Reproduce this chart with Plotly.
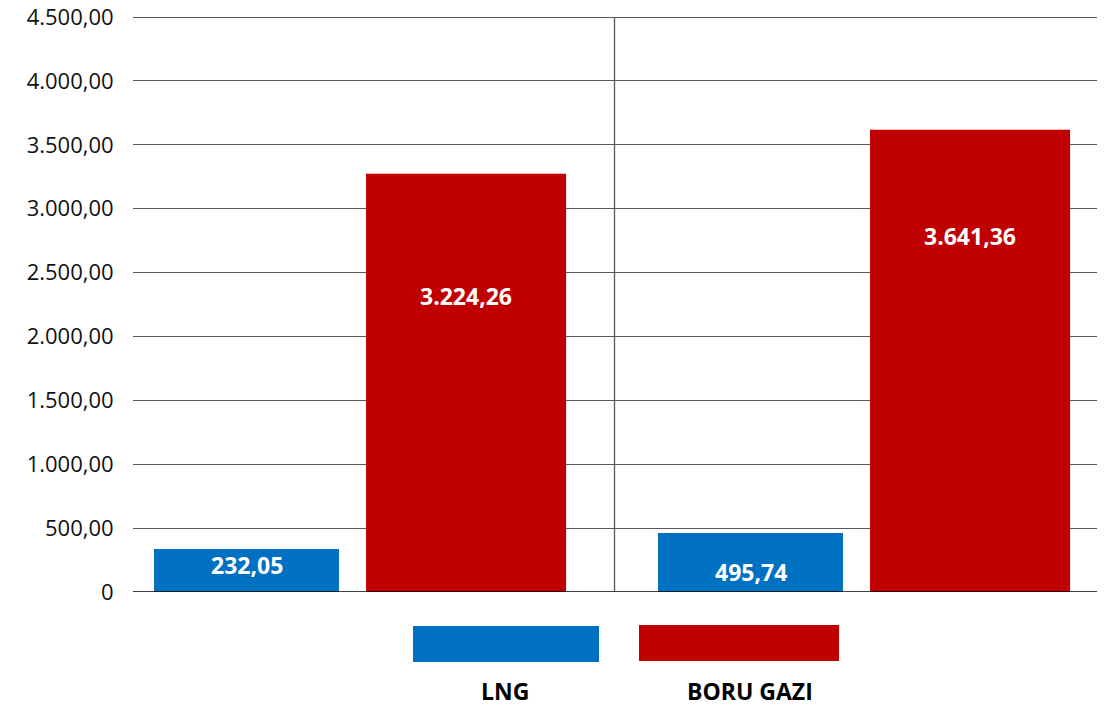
import plotly.graph_objects as go

# ---- data ----
categories = ["Dönem 1", "Dönem 2"]
lng_values = [336, 461]            # bar heights
boru_values = [3273, 3617]
lng_labels = ["232,05", "495,74"]  # printed data labels
boru_labels = ["3.224,26", "3.641,36"]
series_names = ["LNG", "BORU GAZI"]
y_tickvals = [0, 500, 1000, 1500, 2000, 2500, 3000, 3500, 4000, 4500]
y_ticktext = ["0", "500,00", "1.000,00", "1.500,00", "2.000,00", "2.500,00",
              "3.000,00", "3.500,00", "4.000,00", "4.500,00"]

# ---- style ----
BLUE = "#0070C0"
RED = "#C00000"
GRID = "#595959"
LABEL_FONT = dict(family="Open Sans", size=23, color="white")
lng_offset, lng_width = -0.4087, 0.367
boru_offset, boru_width = 0.0119, 0.397
lng_label_y = [211, 156]
boru_label_y = [2320, 2789]

fig = go.Figure()
fig.add_trace(go.Bar(x=categories, y=lng_values, name=series_names[0],
                     marker=dict(color=BLUE, line=dict(width=0)),
                     offset=lng_offset, width=lng_width, hoverinfo="skip"))
fig.add_trace(go.Bar(x=categories, y=boru_values, name=series_names[1],
                     marker=dict(color=RED, line=dict(width=0)),
                     offset=boru_offset, width=boru_width, hoverinfo="skip"))

annotations = []
for i in range(len(categories)):
    annotations.append(dict(x=i + lng_offset + lng_width / 2, y=lng_label_y[i],
                            xref="x", yref="y", text="<b>%s</b>" % lng_labels[i],
                            showarrow=False, font=LABEL_FONT,
                            xanchor="center", yanchor="middle"))
    annotations.append(dict(x=i + boru_offset + boru_width / 2, y=boru_label_y[i],
                            xref="x", yref="y", text="<b>%s</b>" % boru_labels[i],
                            showarrow=False, font=LABEL_FONT,
                            xanchor="center", yanchor="middle"))

# custom legend (swatch with label underneath)
LEG_FONT = dict(family="Open Sans", size=23, color="black")
annotations.append(dict(x=0.3859, y=-0.172, xref="paper", yref="paper",
                        text="<b>%s</b>" % series_names[0], showarrow=False,
                        font=LEG_FONT, xanchor="center", yanchor="middle"))
annotations.append(dict(x=0.640, y=-0.172, xref="paper", yref="paper",
                        text="<b>%s</b>" % series_names[1], showarrow=False,
                        font=LEG_FONT, xanchor="center", yanchor="middle"))

shapes = [
    dict(type="rect", xref="paper", yref="paper", x0=0.2905, x1=0.4834,
         y0=-0.1215, y1=-0.059, fillcolor=BLUE, line=dict(width=0)),
    dict(type="rect", xref="paper", yref="paper", x0=0.5249, x1=0.7324,
         y0=-0.1198, y1=-0.0573, fillcolor=RED, line=dict(width=0)),
    dict(type="line", xref="x", yref="y", x0=0.505, x1=0.505, y0=0, y1=4500,
         line=dict(color=GRID, width=1.3), layer="below"),
    dict(type="line", xref="paper", yref="y", x0=0, x1=1, y0=0, y1=0,
         line=dict(color="black", width=1.3), layer="above"),
]

fig.update_layout(
    width=1115, height=707,
    margin=dict(l=133, r=18, t=16, b=115, autoexpand=False),
    paper_bgcolor="white", plot_bgcolor="white",
    barmode="overlay", showlegend=False,
    annotations=annotations, shapes=shapes,
    font=dict(family="Open Sans", color="black"),
)
fig.update_xaxes(range=[-0.4504, 1.4623], showticklabels=False, showgrid=False,
                 zeroline=False, showline=False, ticks="", automargin=False)
fig.update_yaxes(range=[0, 4508], tickvals=y_tickvals, ticktext=y_ticktext,
                 showgrid=True, gridcolor=GRID, gridwidth=1.2, zeroline=False,
                 showline=False, ticks="outside", ticklen=14, tickcolor="white",
                 automargin=False, ticklabeloverflow="allow",
                 tickfont=dict(family="Open Sans", size=22, color="#111111"))

fig.write_html("out.html", config={"displayModeBar": False},
               post_script="document.body.style.margin='0';")
